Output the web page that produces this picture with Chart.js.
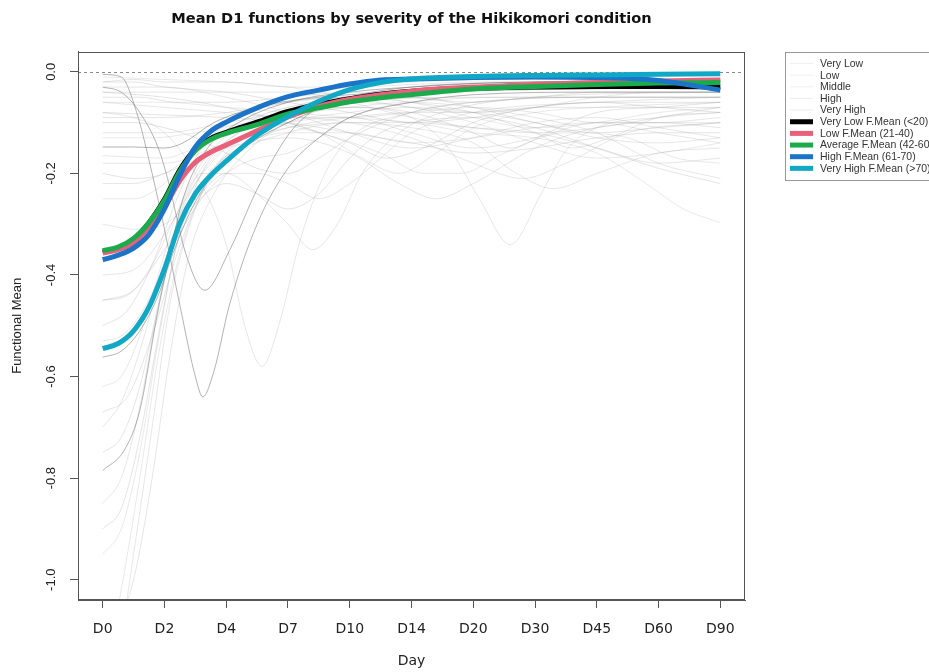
<!DOCTYPE html>
<html><head><meta charset="utf-8">
<script src="https://cdn.jsdelivr.net/npm/chart.js@4"></script>
<style>html,body{margin:0;padding:0;background:#fff}#wrap{width:929px;height:672px;position:relative}</style>
</head><body><div id="wrap"><canvas id="c" width="929" height="672"></canvas></div>
<script>
const chartTitle = 'Mean D1 functions by severity of the Hikikomori condition';
const xAxisTitle = 'Day';
const yAxisTitle = 'Functional Mean';
const xTickLabels = ['D0','D2','D4','D7','D10','D14','D20','D30','D45','D60','D90'];
const yTickValues = [0, -0.2, -0.4, -0.6, -0.8, -1.0];

// positions along the day axis (index of tick label), fine grid for the means
const xGrid = [0,0.25,0.5,0.75,1,1.25,1.5,1.75,2,2.5,3,3.5,4,4.5,5,6,7,8,9,10];
const veryLowMean  = [-0.355,-0.347,-0.330,-0.297,-0.251,-0.193,-0.152,-0.131,-0.119,-0.099,-0.078,-0.064,-0.053,-0.044,-0.038,-0.032,-0.030,-0.029,-0.029,-0.030];
const lowMean      = [-0.357,-0.350,-0.337,-0.305,-0.266,-0.214,-0.178,-0.158,-0.144,-0.116,-0.089,-0.068,-0.054,-0.045,-0.038,-0.030,-0.025,-0.021,-0.018,-0.016];
const averageMean  = [-0.352,-0.345,-0.328,-0.297,-0.253,-0.196,-0.155,-0.133,-0.121,-0.104,-0.083,-0.071,-0.059,-0.051,-0.045,-0.034,-0.029,-0.025,-0.022,-0.021];
const highMean     = [-0.370,-0.361,-0.347,-0.320,-0.270,-0.203,-0.148,-0.117,-0.099,-0.071,-0.049,-0.036,-0.024,-0.016,-0.014,-0.011,-0.010,-0.011,-0.017,-0.036];
const veryHighMean = [-0.545,-0.535,-0.510,-0.463,-0.388,-0.298,-0.240,-0.204,-0.176,-0.125,-0.088,-0.058,-0.035,-0.021,-0.014,-0.009,-0.007,-0.006,-0.005,-0.004];

// individual functions, [dayIndex, value] pairs
const veryLowCurves = [
  [[0,-0.785],[0.35,-0.745],[0.6,-0.667],[0.88,-0.48],[1.05,-0.38],[1.3,-0.25],[1.7,-0.15],[2.2,-0.1],[3,-0.06],[4,-0.04],[5,-0.03],[7,-0.02],[10,-0.02]],
  [[0,-0.005],[0.3,-0.01],[0.55,-0.08],[0.8,-0.2],[1,-0.31],[1.25,-0.46],[1.5,-0.6],[1.62,-0.64],[1.8,-0.59],[2.05,-0.46],[2.5,-0.3],[3,-0.19],[3.5,-0.13],[4,-0.09],[5,-0.06],[6,-0.045],[8,-0.04],[10,-0.04]],
  [[0,-0.03],[0.3,-0.04],[0.6,-0.08],[0.9,-0.15],[1.05,-0.21],[1.35,-0.36],[1.65,-0.43],[2.06,-0.35],[2.49,-0.234],[3.03,-0.12],[3.5,-0.07],[4,-0.05],[5,-0.035],[7,-0.03],[10,-0.03]],
  [[0,-0.562],[0.3,-0.55],[0.6,-0.51],[0.9,-0.44],[1.1,-0.37],[1.4,-0.28],[1.8,-0.2],[2.4,-0.14],[3,-0.1],[4,-0.05],[5,-0.03],[7,-0.02],[10,-0.015]],
  [[0,-0.148],[0.5,-0.148],[1,-0.15],[1.3,-0.14],[1.8,-0.1],[2.5,-0.07],[3.5,-0.05],[5,-0.04],[7,-0.035],[10,-0.03]]
];
const lowCurves = [
  [[0,-0.02],[0.5,-0.02],[1,-0.03],[2,-0.04],[3,-0.06],[4,-0.08],[5,-0.1],[6,-0.09],[7,-0.07],[8,-0.06],[9,-0.07],[10,-0.08]],
  [[0,-0.5],[0.4,-0.47],[0.8,-0.38],[1.2,-0.25],[1.6,-0.15],[2.2,-0.09],[3,-0.06],[4,-0.05],[5,-0.05],[6,-0.07],[7,-0.1],[8,-0.12],[9,-0.11],[10,-0.1]],
  [[0,-0.1],[0.5,-0.1],[1,-0.11],[1.5,-0.13],[2,-0.16],[2.5,-0.19],[3,-0.2],[3.5,-0.17],[4,-0.13],[5,-0.08],[6,-0.06],[8,-0.05],[10,-0.05]],
  [[0,-0.2],[0.5,-0.21],[1,-0.2],[1.5,-0.16],[2,-0.12],[3,-0.08],[4,-0.07],[5,-0.08],[6,-0.12],[6.6,-0.15],[7.2,-0.12],[8,-0.08],[9,-0.07],[10,-0.06]],
  [[0,-0.05],[0.6,-0.05],[1.2,-0.06],[2,-0.06],[3,-0.05],[4,-0.04],[5,-0.05],[6,-0.06],[7,-0.05],[8,-0.04],[10,-0.04]],
  [[0,-0.9],[0.3,-0.86],[0.6,-0.72],[0.9,-0.52],[1.2,-0.34],[1.6,-0.2],[2.2,-0.12],[3,-0.08],[4,-0.06],[6,-0.05],[8,-0.05],[10,-0.05]],
  [[0,-0.08],[1,-0.085],[2,-0.09],[3,-0.1],[4,-0.12],[5,-0.14],[6,-0.16],[7,-0.15],[8,-0.13],[9,-0.12],[10,-0.12]],
  [[0,-0.04],[1,-0.05],[2,-0.07],[3,-0.1],[4,-0.14],[4.6,-0.17],[5.2,-0.15],[6,-0.1],[7,-0.07],[8,-0.06],[10,-0.06]],
  [[0,-0.45],[0.5,-0.43],[1,-0.35],[1.5,-0.26],[2,-0.22],[2.5,-0.24],[3,-0.27],[3.5,-0.24],[4,-0.17],[4.5,-0.12],[5,-0.1],[6,-0.09],[7,-0.11],[8,-0.15],[9,-0.19],[10,-0.22]]
];
const middleCurves = [
  [[0,-0.3],[0.5,-0.31],[1,-0.3],[1.5,-0.25],[2,-0.2],[2.5,-0.2],[3,-0.22],[3.5,-0.25],[4,-0.22],[4.5,-0.17],[5,-0.12],[6,-0.08],[8,-0.06],[10,-0.05]],
  [[0,-0.12],[1,-0.12],[2,-0.1],[3,-0.08],[4,-0.07],[5,-0.09],[5.6,-0.15],[6.1,-0.25],[6.6,-0.34],[7.1,-0.24],[7.5,-0.155],[8,-0.11],[9,-0.09],[10,-0.08]],
  [[0,-0.7],[0.3,-0.65],[0.6,-0.55],[0.9,-0.42],[1.2,-0.3],[1.6,-0.2],[2.2,-0.13],[3,-0.1],[4,-0.09],[5,-0.12],[6,-0.15],[7,-0.13],[8,-0.1],[9,-0.12],[10,-0.14]],
  [[0,-0.08],[0.5,-0.09],[1,-0.12],[1.5,-0.2],[2,-0.34],[2.3,-0.5],[2.58,-0.58],[2.85,-0.5],[3.2,-0.33],[3.6,-0.2],[4,-0.13],[5,-0.08],[6,-0.06],[8,-0.05],[10,-0.05]],
  [[0,-1.3],[0.25,-1.15],[0.5,-0.95],[0.8,-0.7],[1.1,-0.45],[1.5,-0.27],[2,-0.16],[3,-0.1],[4,-0.08],[5,-0.07],[6,-0.08],[7,-0.1],[8,-0.13],[9,-0.14],[10,-0.13]],
  [[0,-0.03],[1,-0.03],[2,-0.05],[3,-0.08],[4,-0.12],[5,-0.15],[6,-0.13],[7,-0.1],[8,-0.09],[9,-0.11],[10,-0.13]],
  [[0,-0.4],[0.5,-0.39],[1,-0.32],[1.5,-0.22],[2,-0.15],[3,-0.09],[4,-0.07],[5,-0.06],[6,-0.07],[7,-0.09],[8,-0.12],[9,-0.18],[10,-0.21]],
  [[0,-0.18],[1,-0.18],[2,-0.14],[3,-0.11],[4,-0.1],[5,-0.11],[6,-0.14],[6.7,-0.2],[7.3,-0.23],[8,-0.2],[9,-0.16],[10,-0.15]],
  [[0,-0.06],[1,-0.07],[2,-0.08],[3,-0.09],[4,-0.09],[5,-0.08],[6,-0.07],[7,-0.08],[8,-0.1],[9,-0.1],[10,-0.09]],
  [[0,-0.85],[0.3,-0.8],[0.6,-0.66],[0.9,-0.46],[1.2,-0.3],[1.6,-0.19],[2.2,-0.12],[3,-0.09],[4,-0.1],[5,-0.13],[6,-0.18],[6.8,-0.21],[7.5,-0.18],[8.5,-0.12],[10,-0.1]]
];
const highCurves = [
  [[0,-0.37],[0.5,-0.35],[1,-0.27],[1.5,-0.15],[2,-0.1],[3,-0.05],[4,-0.03],[5,-0.02],[7,-0.015],[10,-0.02]],
  [[0,-0.62],[0.3,-0.6],[0.6,-0.52],[0.9,-0.4],[1.2,-0.28],[1.6,-0.18],[2.2,-0.11],[3,-0.07],[4,-0.06],[5,-0.07],[6,-0.1],[7,-0.14],[8,-0.17],[9,-0.16],[10,-0.14]],
  [[0,-0.165],[0.5,-0.168],[1,-0.17],[1.3,-0.16],[2,-0.11],[3,-0.07],[4,-0.05],[5,-0.06],[6,-0.09],[7,-0.11],[8,-0.1],[9,-0.08],[10,-0.07]],
  [[0,-1.2],[0.3,-1.02],[0.6,-0.8],[0.9,-0.56],[1.2,-0.38],[1.6,-0.24],[2.2,-0.14],[3,-0.08],[4,-0.05],[6,-0.03],[10,-0.02]],
  [[0,-0.06],[1,-0.06],[2,-0.07],[3,-0.08],[4,-0.09],[5,-0.1],[6,-0.12],[7,-0.13],[8,-0.16],[8.8,-0.22],[9.4,-0.27],[10,-0.297]],
  [[0,-0.25],[0.5,-0.25],[1,-0.22],[1.5,-0.16],[2,-0.12],[2.8,-0.1],[3.5,-0.12],[4.2,-0.17],[4.8,-0.2],[5.4,-0.16],[6,-0.11],[7,-0.08],[8,-0.07],[10,-0.06]],
  [[0,-0.01],[1,-0.015],[2,-0.02],[3,-0.03],[4,-0.05],[5,-0.07],[6,-0.08],[7,-0.07],[8,-0.05],[9,-0.04],[10,-0.04]],
  [[0,-0.13],[0.8,-0.13],[1.5,-0.12],[2.5,-0.1],[3.5,-0.12],[4.5,-0.16],[5.2,-0.2],[5.8,-0.2],[6.5,-0.16],[7.5,-0.12],[8.5,-0.13],[9.3,-0.17],[10,-0.18]],
  [[0,-0.95],[0.3,-0.9],[0.6,-0.75],[0.9,-0.53],[1.2,-0.34],[1.6,-0.22],[2.2,-0.15],[3,-0.12],[4,-0.12],[5,-0.14],[6,-0.13],[7,-0.11],[8,-0.1],[10,-0.1]]
];
const veryHighCurves = [
  [[0,-1.1],[0.25,-1.08],[0.5,-1.0],[0.8,-0.8],[1.1,-0.55],[1.4,-0.36],[1.8,-0.24],[2.4,-0.15],[3,-0.1],[4,-0.06],[5,-0.04],[7,-0.03],[10,-0.02]],
  [[0,-0.45],[0.4,-0.44],[0.8,-0.38],[1.2,-0.28],[1.6,-0.2],[2,-0.2],[2.5,-0.24],[3,-0.3],[3.4,-0.35],[3.8,-0.3],[4.2,-0.2],[4.8,-0.12],[5.5,-0.08],[7,-0.05],[10,-0.04]],
  [[0,-0.67],[0.4,-0.64],[0.8,-0.52],[1.2,-0.36],[1.6,-0.24],[2.2,-0.16],[3,-0.12],[4,-0.1],[5,-0.1],[6,-0.11],[7,-0.12],[8,-0.15],[9,-0.18],[10,-0.17]],
  [[0,-0.02],[0.5,-0.015],[1,-0.02],[2,-0.02],[3,-0.03],[4,-0.03],[5,-0.025],[6,-0.02],[8,-0.02],[10,-0.02]],
  [[0,-0.53],[0.3,-0.52],[0.6,-0.48],[0.9,-0.41],[1.2,-0.33],[1.6,-0.25],[2,-0.2],[2.5,-0.17],[3,-0.16],[3.5,-0.13],[4,-0.09],[5,-0.06],[7,-0.05],[10,-0.05]],
  [[0,-0.09],[1,-0.09],[2,-0.08],[3,-0.06],[4,-0.05],[5,-0.06],[6,-0.08],[7,-0.12],[7.6,-0.15],[8.2,-0.13],[9,-0.09],[10,-0.08]],
  [[0,-0.75],[0.3,-0.72],[0.6,-0.62],[0.9,-0.46],[1.2,-0.32],[1.6,-0.22],[2.2,-0.15],[3,-0.11],[4,-0.09],[5,-0.08],[6,-0.08],[7,-0.07],[8,-0.07],[10,-0.07]],
  [[0,-0.22],[0.5,-0.22],[1,-0.2],[2,-0.15],[3,-0.13],[4,-0.16],[4.8,-0.22],[5.4,-0.25],[6,-0.22],[7,-0.15],[8,-0.11],[9,-0.1],[10,-0.11]],
  [[0,-0.04],[1,-0.04],[2,-0.04],[3,-0.04],[4,-0.06],[5,-0.09],[6,-0.11],[7,-0.12],[8,-0.11],[9,-0.09],[10,-0.07]]
];

const groupNames = ['Very Low','Low','Middle','High','Very High'];
const meanNames = ['Very Low F.Mean (<20)','Low F.Mean (21-40)','Average F.Mean (42-60)','High F.Mean (61-70)','Very High F.Mean (>70)'];

// styles
const FONT = 'Liberation Sans, Arial, sans-serif';
const HFONT = 'DejaVu Sans, Liberation Sans, sans-serif';
const groupColors = ['rgba(105,105,105,0.5)','rgba(165,165,165,0.3)','rgba(170,170,170,0.28)','rgba(175,175,175,0.28)','rgba(165,165,165,0.28)'];
const groupLegendColors = ['rgba(230,230,230,0.6)','rgba(230,230,230,0.6)','rgba(230,230,230,0.6)','rgba(225,225,225,0.6)','rgba(225,225,225,0.6)'];
const meanColors = ['#000000','#E8607A','#1BAA4C','#1B74C8','#10A8C4'];

const meanSeries = [veryLowMean, lowMean, averageMean, highMean, veryHighMean];
const groupSeries = [veryLowCurves, lowCurves, middleCurves, highCurves, veryHighCurves];

const datasets = [];
// first dataset is drawn on top: cyan, blue, green, pink, black
for (let k = meanSeries.length - 1; k >= 0; k--) {
  datasets.push({
    label: meanNames[k],
    data: xGrid.map((x, i) => ({x, y: meanSeries[k][i]})),
    borderColor: meanColors[k], borderWidth: 5, pointRadius: 0,
    cubicInterpolationMode: 'monotone', fill: false
  });
}
groupSeries.forEach((curves, g) => {
  curves.forEach(c => {
    datasets.push({
      label: groupNames[g],
      data: c.map(([x, y]) => ({x, y})),
      borderColor: groupColors[g], borderWidth: 1, pointRadius: 0,
      cubicInterpolationMode: 'monotone', fill: false
    });
  });
});

const zeroLine = {
  id: 'zeroLine',
  beforeDatasetsDraw(chart) {
    const {ctx, chartArea} = chart, y = Math.round(chart.scales.y.getPixelForValue(0)) + 0.5;
    ctx.save(); ctx.strokeStyle = '#888'; ctx.lineWidth = 1; ctx.setLineDash([3, 3]);
    ctx.beginPath(); ctx.moveTo(chartArea.left, y); ctx.lineTo(chartArea.right, y); ctx.stroke(); ctx.restore();
  }
};
const rDecor = {
  id: 'rDecor',
  afterDraw(chart) {
    const {ctx, chartArea} = chart;
    ctx.save();
    // frame
    ctx.strokeStyle = '#555'; ctx.lineWidth = 1;
    ctx.strokeRect(Math.round(chartArea.left) + 0.5, Math.round(chartArea.top) + 0.5,
      Math.round(chartArea.right - chartArea.left) - 1, Math.round(chartArea.bottom - chartArea.top) - 1);
    // rotated y tick labels
    ctx.fillStyle = '#222'; ctx.font = '13px ' + FONT; ctx.textAlign = 'center'; ctx.textBaseline = 'middle';
    const ys = chart.scales.y;
    ys.ticks.forEach(t => {
      ctx.save(); ctx.translate(51, ys.getPixelForValue(t.value)); ctx.rotate(-Math.PI / 2);
      ctx.fillText(t.value.toFixed(1), 0, 0); ctx.restore();
    });
    // legend
    const lx = 785, ly = 52, lh = 128;
    ctx.strokeStyle = '#999'; ctx.lineWidth = 1;
    ctx.strokeRect(lx + 0.5, ly + 0.5, 170, lh);
    const names = [...groupNames, ...meanNames];
    const cols = [...groupLegendColors, ...meanColors];
    ctx.font = '10.5px ' + FONT; ctx.textAlign = 'left'; ctx.textBaseline = 'middle';
    names.forEach((n, k) => {
      const y = 63.5 + k * 11.65;
      ctx.strokeStyle = cols[k]; ctx.lineWidth = k < 5 ? 1 : 5;
      ctx.beginPath(); ctx.moveTo(790, y); ctx.lineTo(813, y); ctx.stroke();
      ctx.fillStyle = '#333'; ctx.fillText(n, 820, y + 0.5);
    });
    ctx.restore();
  }
};

new Chart(document.getElementById('c'), {
  type: 'line',
  data: {datasets},
  options: {
    responsive: false, animation: false, devicePixelRatio: 1, events: [],
    layout: {padding: {left: 0, right: 184, top: 0, bottom: 0}},
    plugins: {
      legend: {display: false}, tooltip: {enabled: false},
      title: {display: true, text: chartTitle, fullSize: false, color: '#111',
        font: {family: HFONT, size: 14.6, weight: 'bold'}, padding: {top: 10, bottom: 24}}
    },
    scales: {
      x: {
        type: 'linear', min: -0.4, max: 10.4,
        afterBuildTicks(s) { s.ticks = xTickLabels.map((l, i) => ({value: i})); },
        afterFit(s) { s.height = 72; },
        ticks: {callback: v => xTickLabels[Math.round(v)], color: '#222', font: {family: HFONT, size: 14},
          padding: 13, maxRotation: 0, minRotation: 0, autoSkip: false},
        grid: {drawOnChartArea: false, drawTicks: true, tickLength: 8, color: '#555'},
        border: {display: true, color: '#555'},
        title: {display: true, text: xAxisTitle, color: '#222', font: {family: HFONT, size: 14}, padding: {top: 0, bottom: 2}}
      },
      y: {
        type: 'linear', min: -1.04, max: 0.04,
        afterBuildTicks(s) { s.ticks = yTickValues.map(v => ({value: v})); },
        afterFit(s) { s.width = 78; },
        ticks: {display: false},
        grid: {drawOnChartArea: false, drawTicks: true, tickLength: 8, color: '#555'},
        border: {display: true, color: '#555'},
        title: {display: true, text: yAxisTitle, color: '#222', font: {family: FONT, size: 13}, padding: {top: 10, bottom: 0}}
      }
    }
  },
  plugins: [zeroLine, rDecor]
});
</script></body></html>
